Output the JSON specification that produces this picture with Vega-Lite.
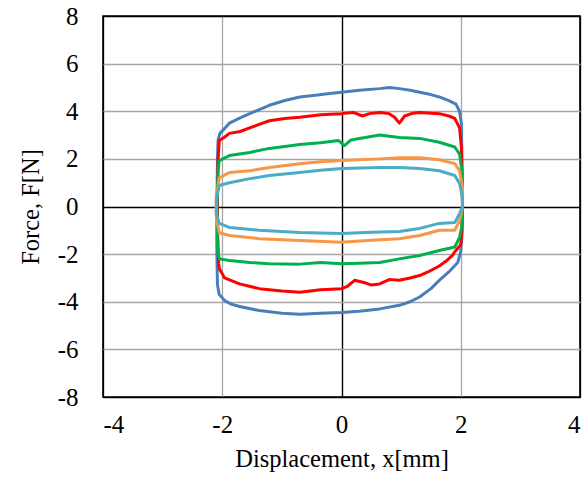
{
  "$schema": "https://vega.github.io/schema/vega-lite/v6.json",
  "width": 477,
  "height": 381,
  "autosize": "none",
  "padding": {"left": 103, "top": 16, "right": 4, "bottom": 82},
  "background": "white",
  "config": {
    "view": {"stroke": "black", "strokeWidth": 1.6},
    "font": "Liberation Serif",
    "axis": {
      "labelFont": "Liberation Serif",
      "labelFontSize": 25,
      "labelColor": "black",
      "titleFont": "Liberation Serif",
      "titleFontSize": 24.5,
      "titleFontWeight": "normal",
      "titleColor": "black",
      "domain": false,
      "ticks": false,
      "grid": true
    }
  },
  "layer": [
    {
      "data": {"values": [
        {"s":"1","o":1,"x":-2.08,"y":-3.3},{"s":"1","o":2,"x":-2.09,"y":-2.0},{"s":"1","o":3,"x":-2.09,"y":0.0},{"s":"1","o":4,"x":-2.08,"y":2.0},{"s":"1","o":5,"x":-2.07,"y":2.8},{"s":"1","o":6,"x":-2.04,"y":3.07},{"s":"1","o":7,"x":-1.97,"y":3.25},{"s":"1","o":8,"x":-1.88,"y":3.5},{"s":"1","o":9,"x":-1.7,"y":3.72},{"s":"1","o":10,"x":-1.54,"y":3.9},{"s":"1","o":11,"x":-1.38,"y":4.07},{"s":"1","o":12,"x":-1.21,"y":4.25},{"s":"1","o":13,"x":-0.95,"y":4.45},{"s":"1","o":14,"x":-0.7,"y":4.6},{"s":"1","o":15,"x":-0.4,"y":4.68},{"s":"1","o":16,"x":-0.2,"y":4.75},{"s":"1","o":17,"x":0.0,"y":4.8},{"s":"1","o":18,"x":0.3,"y":4.88},{"s":"1","o":19,"x":0.64,"y":4.95},{"s":"1","o":20,"x":0.8,"y":5.0},{"s":"1","o":21,"x":0.97,"y":4.95},{"s":"1","o":22,"x":1.15,"y":4.88},{"s":"1","o":23,"x":1.31,"y":4.8},{"s":"1","o":24,"x":1.5,"y":4.7},{"s":"1","o":25,"x":1.64,"y":4.6},{"s":"1","o":26,"x":1.8,"y":4.45},{"s":"1","o":27,"x":1.92,"y":4.3},{"s":"1","o":28,"x":1.98,"y":4.0},{"s":"1","o":29,"x":2.01,"y":3.5},{"s":"1","o":30,"x":2.02,"y":2.0},{"s":"1","o":31,"x":2.03,"y":0.0},{"s":"1","o":32,"x":2.02,"y":-1.2},{"s":"1","o":33,"x":2.0,"y":-1.9},{"s":"1","o":34,"x":1.95,"y":-2.35},{"s":"1","o":35,"x":1.8,"y":-2.75},{"s":"1","o":36,"x":1.64,"y":-3.1},{"s":"1","o":37,"x":1.5,"y":-3.45},{"s":"1","o":38,"x":1.31,"y":-3.8},{"s":"1","o":39,"x":1.15,"y":-4.0},{"s":"1","o":40,"x":0.97,"y":-4.15},{"s":"1","o":41,"x":0.64,"y":-4.3},{"s":"1","o":42,"x":0.3,"y":-4.4},{"s":"1","o":43,"x":0.0,"y":-4.45},{"s":"1","o":44,"x":-0.35,"y":-4.48},{"s":"1","o":45,"x":-0.7,"y":-4.52},{"s":"1","o":46,"x":-1.0,"y":-4.48},{"s":"1","o":47,"x":-1.38,"y":-4.37},{"s":"1","o":48,"x":-1.71,"y":-4.2},{"s":"1","o":49,"x":-1.85,"y":-4.1},{"s":"1","o":50,"x":-1.96,"y":-3.95},{"s":"1","o":51,"x":-2.05,"y":-3.7},{"s":"1","o":52,"x":-2.08,"y":-3.3},

        {"s":"2","o":1,"x":-2.06,"y":-2.4},{"s":"2","o":2,"x":-2.08,"y":-1.0},{"s":"2","o":3,"x":-2.08,"y":0.5},{"s":"2","o":4,"x":-2.07,"y":2.0},{"s":"2","o":5,"x":-2.05,"y":2.77},{"s":"2","o":6,"x":-1.97,"y":2.9},{"s":"2","o":7,"x":-1.88,"y":3.07},{"s":"2","o":8,"x":-1.7,"y":3.15},{"s":"2","o":9,"x":-1.54,"y":3.3},{"s":"2","o":10,"x":-1.38,"y":3.45},{"s":"2","o":11,"x":-1.21,"y":3.6},{"s":"2","o":12,"x":-0.95,"y":3.7},{"s":"2","o":13,"x":-0.7,"y":3.75},{"s":"2","o":14,"x":-0.35,"y":3.85},{"s":"2","o":15,"x":0.0,"y":3.9},{"s":"2","o":16,"x":0.2,"y":3.95},{"s":"2","o":17,"x":0.35,"y":3.8},{"s":"2","o":18,"x":0.47,"y":3.9},{"s":"2","o":19,"x":0.64,"y":3.95},{"s":"2","o":20,"x":0.8,"y":3.9},{"s":"2","o":21,"x":0.89,"y":3.75},{"s":"2","o":22,"x":0.97,"y":3.5},{"s":"2","o":23,"x":1.06,"y":3.8},{"s":"2","o":24,"x":1.2,"y":3.92},{"s":"2","o":25,"x":1.31,"y":3.95},{"s":"2","o":26,"x":1.5,"y":3.92},{"s":"2","o":27,"x":1.64,"y":3.9},{"s":"2","o":28,"x":1.8,"y":3.8},{"s":"2","o":29,"x":1.9,"y":3.7},{"s":"2","o":30,"x":1.98,"y":3.3},{"s":"2","o":31,"x":2.01,"y":2.5},{"s":"2","o":32,"x":2.03,"y":0.0},{"s":"2","o":33,"x":2.02,"y":-1.0},{"s":"2","o":34,"x":2.0,"y":-1.6},{"s":"2","o":35,"x":1.95,"y":-1.75},{"s":"2","o":36,"x":1.9,"y":-1.9},{"s":"2","o":37,"x":1.86,"y":-2.05},{"s":"2","o":38,"x":1.75,"y":-2.3},{"s":"2","o":39,"x":1.64,"y":-2.5},{"s":"2","o":40,"x":1.45,"y":-2.75},{"s":"2","o":41,"x":1.31,"y":-2.9},{"s":"2","o":42,"x":1.15,"y":-3.0},{"s":"2","o":43,"x":0.97,"y":-3.1},{"s":"2","o":44,"x":0.8,"y":-3.07},{"s":"2","o":45,"x":0.64,"y":-3.25},{"s":"2","o":46,"x":0.5,"y":-3.3},{"s":"2","o":47,"x":0.39,"y":-3.2},{"s":"2","o":48,"x":0.22,"y":-3.1},{"s":"2","o":49,"x":0.1,"y":-3.35},{"s":"2","o":50,"x":0.0,"y":-3.45},{"s":"2","o":51,"x":-0.35,"y":-3.5},{"s":"2","o":52,"x":-0.7,"y":-3.6},{"s":"2","o":53,"x":-1.0,"y":-3.55},{"s":"2","o":54,"x":-1.38,"y":-3.45},{"s":"2","o":55,"x":-1.71,"y":-3.25},{"s":"2","o":56,"x":-1.96,"y":-3.0},{"s":"2","o":57,"x":-2.05,"y":-2.6},{"s":"2","o":58,"x":-2.06,"y":-2.4},

        {"s":"3","o":1,"x":-2.08,"y":-1.8},{"s":"3","o":2,"x":-2.09,"y":0.0},{"s":"3","o":3,"x":-2.07,"y":1.5},{"s":"3","o":4,"x":-2.05,"y":1.93},{"s":"3","o":5,"x":-1.88,"y":2.14},{"s":"3","o":6,"x":-1.54,"y":2.27},{"s":"3","o":7,"x":-1.21,"y":2.44},{"s":"3","o":8,"x":-0.95,"y":2.52},{"s":"3","o":9,"x":-0.7,"y":2.6},{"s":"3","o":10,"x":-0.35,"y":2.68},{"s":"3","o":11,"x":-0.05,"y":2.77},{"s":"3","o":12,"x":0.05,"y":2.56},{"s":"3","o":13,"x":0.15,"y":2.78},{"s":"3","o":14,"x":0.3,"y":2.86},{"s":"3","o":15,"x":0.64,"y":3.0},{"s":"3","o":16,"x":0.97,"y":2.9},{"s":"3","o":17,"x":1.31,"y":2.86},{"s":"3","o":18,"x":1.64,"y":2.7},{"s":"3","o":19,"x":1.9,"y":2.5},{"s":"3","o":20,"x":1.98,"y":2.2},{"s":"3","o":21,"x":2.02,"y":1.5},{"s":"3","o":22,"x":2.03,"y":0.0},{"s":"3","o":23,"x":2.02,"y":-0.8},{"s":"3","o":24,"x":1.98,"y":-1.3},{"s":"3","o":25,"x":1.9,"y":-1.7},{"s":"3","o":26,"x":1.64,"y":-1.85},{"s":"3","o":27,"x":1.31,"y":-2.06},{"s":"3","o":28,"x":0.97,"y":-2.2},{"s":"3","o":29,"x":0.64,"y":-2.35},{"s":"3","o":30,"x":0.3,"y":-2.38},{"s":"3","o":31,"x":0.0,"y":-2.4},{"s":"3","o":32,"x":-0.35,"y":-2.35},{"s":"3","o":33,"x":-0.7,"y":-2.42},{"s":"3","o":34,"x":-1.21,"y":-2.4},{"s":"3","o":35,"x":-1.54,"y":-2.35},{"s":"3","o":36,"x":-1.88,"y":-2.27},{"s":"3","o":37,"x":-2.05,"y":-2.2},{"s":"3","o":38,"x":-2.08,"y":-1.8},

        {"s":"4","o":1,"x":-2.1,"y":-0.5},{"s":"4","o":2,"x":-2.1,"y":0.4},{"s":"4","o":3,"x":-2.05,"y":1.2},{"s":"4","o":4,"x":-1.88,"y":1.43},{"s":"4","o":5,"x":-1.54,"y":1.5},{"s":"4","o":6,"x":-1.21,"y":1.64},{"s":"4","o":7,"x":-0.7,"y":1.8},{"s":"4","o":8,"x":-0.35,"y":1.88},{"s":"4","o":9,"x":0.0,"y":1.93},{"s":"4","o":10,"x":0.64,"y":2.0},{"s":"4","o":11,"x":0.97,"y":2.05},{"s":"4","o":12,"x":1.31,"y":2.05},{"s":"4","o":13,"x":1.64,"y":1.96},{"s":"4","o":14,"x":1.9,"y":1.8},{"s":"4","o":15,"x":1.98,"y":1.5},{"s":"4","o":16,"x":2.03,"y":0.8},{"s":"4","o":17,"x":2.03,"y":0.0},{"s":"4","o":18,"x":1.98,"y":-0.6},{"s":"4","o":19,"x":1.9,"y":-1.0},{"s":"4","o":20,"x":1.64,"y":-1.0},{"s":"4","o":21,"x":1.31,"y":-1.22},{"s":"4","o":22,"x":0.97,"y":-1.35},{"s":"4","o":23,"x":0.5,"y":-1.42},{"s":"4","o":24,"x":0.0,"y":-1.5},{"s":"4","o":25,"x":-0.7,"y":-1.43},{"s":"4","o":26,"x":-1.38,"y":-1.35},{"s":"4","o":27,"x":-1.88,"y":-1.22},{"s":"4","o":28,"x":-2.05,"y":-1.1},{"s":"4","o":29,"x":-2.1,"y":-0.5},

        {"s":"5","o":1,"x":-2.1,"y":-0.3},{"s":"5","o":2,"x":-2.1,"y":0.3},{"s":"5","o":3,"x":-2.05,"y":0.88},{"s":"5","o":4,"x":-1.88,"y":1.0},{"s":"5","o":5,"x":-1.54,"y":1.17},{"s":"5","o":6,"x":-1.21,"y":1.3},{"s":"5","o":7,"x":-0.7,"y":1.43},{"s":"5","o":8,"x":-0.35,"y":1.52},{"s":"5","o":9,"x":0.0,"y":1.6},{"s":"5","o":10,"x":0.64,"y":1.64},{"s":"5","o":11,"x":0.97,"y":1.64},{"s":"5","o":12,"x":1.31,"y":1.6},{"s":"5","o":13,"x":1.64,"y":1.5},{"s":"5","o":14,"x":1.9,"y":1.3},{"s":"5","o":15,"x":1.98,"y":0.97},{"s":"5","o":16,"x":2.03,"y":0.4},{"s":"5","o":17,"x":2.03,"y":0.0},{"s":"5","o":18,"x":1.98,"y":-0.3},{"s":"5","o":19,"x":1.9,"y":-0.67},{"s":"5","o":20,"x":1.64,"y":-0.71},{"s":"5","o":21,"x":1.31,"y":-0.92},{"s":"5","o":22,"x":0.97,"y":-1.05},{"s":"5","o":23,"x":0.5,"y":-1.08},{"s":"5","o":24,"x":0.0,"y":-1.13},{"s":"5","o":25,"x":-0.7,"y":-1.09},{"s":"5","o":26,"x":-1.38,"y":-1.0},{"s":"5","o":27,"x":-1.88,"y":-0.88},{"s":"5","o":28,"x":-2.05,"y":-0.71},{"s":"5","o":29,"x":-2.1,"y":-0.3}
      ]},
      "mark": {"type": "line", "strokeWidth": 3, "strokeJoin": "round"},
      "encoding": {
        "x": {
          "field": "x", "type": "quantitative",
          "scale": {"domain": [-4, 4], "nice": false, "zero": false},
          "axis": {"values": [-4, -2, 0, 2, 4], "labelExpr": "'' + datum.value", "labelFont": "Liberation Serif", "labelFontSize": 25, "title": "Displacement, x[mm]", "labelPadding": 15, "titlePadding": 10, "gridColor": {"condition": {"test": "datum.value == 0 || abs(datum.value) == 4", "value": "black"}, "value": "#a6a6a6"}, "gridWidth": {"condition": {"test": "datum.value == 0", "value": 1.4}, "value": 1.3}}
        },
        "y": {
          "field": "y", "type": "quantitative",
          "scale": {"domain": [-8, 8], "nice": false, "zero": false},
          "axis": {"values": [-8, -6, -4, -2, 0, 2, 4, 6, 8], "labelExpr": "'' + datum.value", "labelFont": "Liberation Serif", "labelFontSize": 25, "title": "Force,  F[N]", "labelPadding": 25, "titlePadding": 14, "gridColor": {"condition": {"test": "datum.value == 0 || abs(datum.value) == 8", "value": "black"}, "value": "#a6a6a6"}, "gridWidth": {"condition": {"test": "datum.value == 0", "value": 1.4}, "value": 1.3}}
        },
        "color": {
          "field": "s", "type": "nominal",
          "scale": {"domain": ["1", "2", "3", "4", "5"], "range": ["#4a7ebb", "#ff0000", "#00b050", "#f79646", "#4bacc6"]},
          "legend": null
        },
        "order": {"field": "o", "type": "quantitative"}
      }
    }
  ]
}
